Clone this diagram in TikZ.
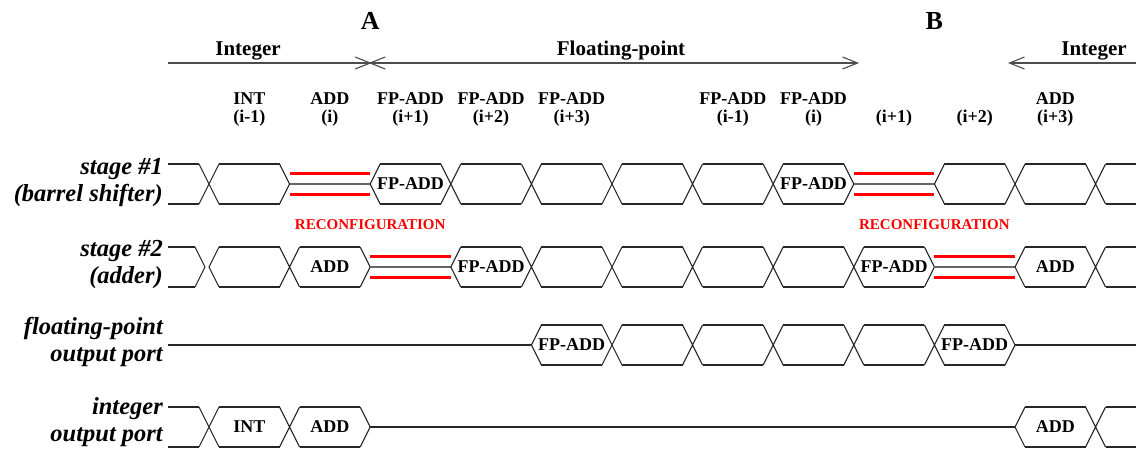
\documentclass[tikz,border=0pt]{standalone}
\usepackage{fontspec}
\setmainfont{Liberation Serif}
\usetikzlibrary{arrows.meta}

% waveform pieces; the current row is given by \rowT (top), \rowB (bottom), \rowM (middle)
\newcommand{\wbus}[2]{\draw[wave] ({#1+10},\rowT) -- ({#2-10},\rowT) ({#1+10},\rowB) -- ({#2-10},\rowB);}
\newcommand{\wcross}[1]{\draw[wave] ({#1-10},\rowT) -- ({#1+10},\rowB) ({#1-10},\rowB) -- ({#1+10},\rowT);}
\newcommand{\wclose}[1]{\draw[wave] ({#1-10},\rowT) -- (#1,\rowM) -- ({#1-10},\rowB);}
\newcommand{\wopen}[1]{\draw[wave] ({#1+10},\rowT) -- (#1,\rowM) -- ({#1+10},\rowB);}
\newcommand{\widle}[2]{\draw[wave] (#1,\rowM) -- (#2,\rowM);}
\newcommand{\wreconf}[2]{%
  \draw[midbar] (#1,\rowM) -- (#2,\rowM);
  \draw[redbar] (#1,{\rowM-10.5}) -- (#2,{\rowM-10.5}) (#1,{\rowM+10.5}) -- (#2,{\rowM+10.5});}

\tikzset{Sb/.tip={Straight Barb[length=15pt,width=12pt,line width=1.1pt]}}

\begin{document}
\begin{tikzpicture}[x=1pt,y=-1pt,
  wave/.style={draw=black!85, line width=1.1pt, line join=miter},
  midbar/.style={draw=black!60, line width=1.1pt},
  redbar/.style={draw=red, line width=3pt},
  span/.style={draw=black!70, line width=1.1pt},
  hdr/.style={font=\fontsize{18}{18}\selectfont\bfseries, anchor=base, inner sep=0pt},
  cell/.style={font=\fontsize{18}{18}\selectfont\bfseries, inner sep=0pt},
  phase/.style={font=\fontsize{21}{21}\selectfont\bfseries, anchor=base, inner sep=0pt},
  point/.style={font=\fontsize{26}{26}\selectfont\bfseries, inner sep=0pt},
  sig/.style={font=\fontsize{24.5}{27}\selectfont\bfseries\itshape, align=right, anchor=east, inner sep=0pt},
  reconlbl/.style={font=\fontsize{15}{15}\selectfont\bfseries, text=red, inner sep=0pt}
]
\useasboundingbox (0,0) rectangle (1136,450);

% ---- phase markers and spans ----
\node[point] (A) at (370.2,21) {A};
\node[point] (B) at (934.4,21) {B};
\node[phase] (intA) at (248,55) {Integer};
\node[phase] (fpph) at (621,55) {Floating-point};
\node[phase] (intB) at (1094,55) {Integer};

\coordinate (spanL) at (168,63);
\coordinate (spanA) at (370.2,63);
\coordinate (spanF) at (859,63);
\coordinate (spanBtip) at (1008,63);
\coordinate (spanR) at (1136,63);
\draw[span] (spanL) -- (spanA);
\draw[span, -{Sb}] (spanA) -- (spanF);
\draw[span, -{Sb}] (spanR) -- (spanBtip);
% the switch point A: both phase arrows meet in a cross
\draw[span] ([shift={(-15,-6)}]spanA) -- ([shift={(15,6)}]spanA)
            ([shift={(-15,6)}]spanA) -- ([shift={(15,-6)}]spanA);

% ---- instruction headers ----
\def\hA{104}\def\hB{122}
\node[hdr] (h1a) at (249.3,\hA) {INT};    \node[hdr] (h1b) at (249.3,\hB) {(i-1)};
\node[hdr] (h2a) at (329.9,\hA) {ADD};    \node[hdr] (h2b) at (329.9,\hB) {(i)};
\node[hdr] (h3a) at (410.5,\hA) {FP-ADD}; \node[hdr] (h3b) at (410.5,\hB) {(i+1)};
\node[hdr] (h4a) at (491.1,\hA) {FP-ADD}; \node[hdr] (h4b) at (491.1,\hB) {(i+2)};
\node[hdr] (h5a) at (571.7,\hA) {FP-ADD}; \node[hdr] (h5b) at (571.7,\hB) {(i+3)};
\node[hdr] (h7a) at (732.9,\hA) {FP-ADD}; \node[hdr] (h7b) at (732.9,\hB) {(i-1)};
\node[hdr] (h8a) at (813.5,\hA) {FP-ADD}; \node[hdr] (h8b) at (813.5,\hB) {(i)};
\node[hdr] (h9b) at (894.1,\hB) {(i+1)};
\node[hdr] (h10b) at (974.7,\hB) {(i+2)};
\node[hdr] (h11a) at (1055.3,\hA) {ADD};  \node[hdr] (h11b) at (1055.3,\hB) {(i+3)};

% ---- signal names ----
\node[sig] (s1) at (163,183) {stage \#1\\(barrel shifter)};
\node[sig] (s2) at (163,264) {stage \#2\\(adder)};
\node[sig] (s3) at (163,342) {floating-point\\output port};
\node[sig] (s4) at (163,422) {integer\\output port};

% ---- stage 1 ----
\def\rowT{164}\def\rowB{204}\def\rowM{184}
\wbus{158}{209}
\wcross{209}
\wbus{209}{289.6}
\wclose{289.6}
\wreconf{289.6}{370.2}
\wopen{370.2}
\foreach \a/\b in {370.2/450.8, 450.8/531.4, 531.4/612, 612/692.6, 692.6/773.2, 773.2/853.8} {\wbus{\a}{\b}}
\foreach \a in {450.8, 531.4, 612, 692.6, 773.2} {\wcross{\a}}
\wclose{853.8}
\wreconf{853.8}{934.4}
\wopen{934.4}
\foreach \a/\b in {934.4/1015, 1015/1095.6, 1095.6/1146} {\wbus{\a}{\b}}
\foreach \a in {1015, 1095.6} {\wcross{\a}}
\node[cell] (c1a) at (410.5,184) {FP-ADD};
\node[cell] (c1b) at (813.5,184) {FP-ADD};

\node[reconlbl] (r1) at (370.2,225) {RECONFIGURATION};
\node[reconlbl] (r2) at (934.4,225) {RECONFIGURATION};

% ---- stage 2 ----
\def\rowT{247}\def\rowB{287}\def\rowM{267}
\wbus{158}{205}
\wclose{205}
\wopen{209}
\foreach \a/\b in {209/289.6, 289.6/370.2} {\wbus{\a}{\b}}
\wcross{289.6}
\wclose{370.2}
\wreconf{370.2}{450.8}
\wopen{450.8}
\foreach \a/\b in {450.8/531.4, 531.4/612, 612/692.6, 692.6/773.2, 773.2/853.8, 853.8/934.4} {\wbus{\a}{\b}}
\foreach \a in {531.4, 612, 692.6, 773.2, 853.8} {\wcross{\a}}
\wclose{934.4}
\wreconf{934.4}{1015}
\wopen{1015}
\foreach \a/\b in {1015/1095.6, 1095.6/1146} {\wbus{\a}{\b}}
\wcross{1095.6}
\node[cell] (c2a) at (329.9,267) {ADD};
\node[cell] (c2b) at (491.1,267) {FP-ADD};
\node[cell] (c2c) at (894.1,267) {FP-ADD};
\node[cell] (c2d) at (1055.3,267) {ADD};

% ---- floating-point output port ----
\def\rowT{325}\def\rowB{365}\def\rowM{345}
\widle{168}{531.4}
\wopen{531.4}
\foreach \a/\b in {531.4/612, 612/692.6, 692.6/773.2, 773.2/853.8, 853.8/934.4, 934.4/1015} {\wbus{\a}{\b}}
\foreach \a in {612, 692.6, 773.2, 853.8, 934.4} {\wcross{\a}}
\wclose{1015}
\widle{1015}{1136}
\node[cell] (c3a) at (571.7,345) {FP-ADD};
\node[cell] (c3b) at (974.7,345) {FP-ADD};

% ---- integer output port ----
\def\rowT{407}\def\rowB{447}\def\rowM{427}
\foreach \a/\b in {158/209, 209/289.6, 289.6/370.2} {\wbus{\a}{\b}}
\foreach \a in {209, 289.6} {\wcross{\a}}
\wclose{370.2}
\widle{370.2}{1015}
\wopen{1015}
\foreach \a/\b in {1015/1095.6, 1095.6/1146} {\wbus{\a}{\b}}
\wcross{1095.6}
\node[cell] (c4a) at (249.3,427) {INT};
\node[cell] (c4b) at (329.9,427) {ADD};
\node[cell] (c4c) at (1055.3,427) {ADD};
\end{tikzpicture}
\end{document}
